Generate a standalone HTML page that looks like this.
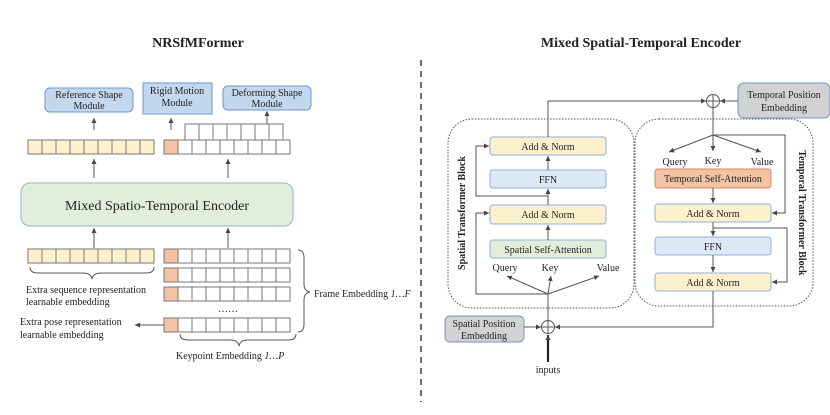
<!DOCTYPE html>
<html><head><meta charset="utf-8"><style>html,body{margin:0;padding:0;background:#fff}svg{display:block}text{font-family:"Liberation Serif",serif;fill:#222}</style></head>
<body>
<svg width="830" height="415" viewBox="0 0 830 415" xmlns="http://www.w3.org/2000/svg">
<defs>
<marker id="a" markerWidth="6" markerHeight="6" refX="5" refY="3" orient="auto" markerUnits="userSpaceOnUse"><path d="M0,0.5 L5,3 L0,5.5 z" fill="#444"/></marker>
</defs>
<!-- titles -->
<text x="198" y="47" font-size="14" font-weight="bold" text-anchor="middle">NRSfMFormer</text>
<text x="641" y="47" font-size="14" font-weight="bold" text-anchor="middle">Mixed Spatial-Temporal Encoder</text>
<line x1="421" y1="60" x2="421" y2="402" stroke="#222" stroke-width="1.3" stroke-dasharray="6,5"/>

<!-- LEFT -->
<g font-size="10" text-anchor="middle">
<rect x="45" y="88" width="88" height="24" rx="5" fill="#c3d8ee" stroke="#6f97c8"/>
<text x="89" y="98">Reference Shape</text><text x="89" y="109">Module</text>
<rect x="143" y="83" width="69" height="31" fill="#c3d8ee" stroke="#6f97c8"/>
<text x="177" y="94">Rigid Motion</text><text x="177" y="106">Module</text>
<rect x="223" y="86" width="88" height="24" rx="5" fill="#c3d8ee" stroke="#6f97c8"/>
<text x="267" y="96">Deforming Shape</text><text x="267" y="107">Module</text>
</g>
<g stroke="#555" fill="none" stroke-width="1">
<line x1="94" y1="130" x2="94" y2="118" marker-end="url(#a)"/>
<line x1="171" y1="130" x2="171" y2="118" marker-end="url(#a)"/>
<line x1="267" y1="124" x2="267" y2="111" marker-end="url(#a)"/>
<line x1="94" y1="178" x2="94" y2="159" marker-end="url(#a)"/>
<line x1="228" y1="178" x2="228" y2="159" marker-end="url(#a)"/>
<line x1="94" y1="248" x2="94" y2="228" marker-end="url(#a)"/>
<line x1="228" y1="248" x2="228" y2="228" marker-end="url(#a)"/>
</g>
<!-- staggered row -->
<rect x="185" y="124" width="98" height="16" fill="#fff" stroke="#777"/>
<path d="M199 124V140M213 124V140M227 124V140M241 124V140M255 124V140M269 124V140" stroke="#777"/>
<!-- output rows -->
<rect x="28" y="140" width="126" height="14" fill="#fdf0cc" stroke="#777"/>
<path d="M42 140V154M56 140V154M70 140V154M84 140V154M98 140V154M112 140V154M126 140V154M140 140V154" stroke="#777"/>
<rect x="164" y="140" width="14" height="14" fill="#f4c3a4" stroke="#777"/>
<rect x="178" y="140" width="112" height="14" fill="#fff" stroke="#777"/>
<path d="M192 140V154M206 140V154M220 140V154M234 140V154M248 140V154M262 140V154M276 140V154" stroke="#777"/>
<!-- encoder -->
<rect x="21" y="183" width="272" height="43" rx="9" fill="#e2eed9" stroke="#8fb1d8"/>
<text x="157" y="210" font-size="14" text-anchor="middle">Mixed Spatio-Temporal Encoder</text>
<!-- input rows -->
<rect x="28" y="249" width="126" height="14" fill="#fdf0cc" stroke="#777"/>
<path d="M42 249V263M56 249V263M70 249V263M84 249V263M98 249V263M112 249V263M126 249V263M140 249V263" stroke="#777"/>
<g stroke="#777">
<rect x="164" y="249" width="14" height="14" fill="#f4c3a4"/><rect x="178" y="249" width="112" height="14" fill="#fff"/>
<path d="M192 249v14M206 249v14M220 249v14M234 249v14M248 249v14M262 249v14M276 249v14"/>
<rect x="164" y="268" width="14" height="14" fill="#f4c3a4"/><rect x="178" y="268" width="112" height="14" fill="#fff"/>
<path d="M192 268v14M206 268v14M220 268v14M234 268v14M248 268v14M262 268v14M276 268v14"/>
<rect x="164" y="287" width="14" height="14" fill="#f4c3a4"/><rect x="178" y="287" width="112" height="14" fill="#fff"/>
<path d="M192 287v14M206 287v14M220 287v14M234 287v14M248 287v14M262 287v14M276 287v14"/>
<rect x="164" y="318" width="14" height="14" fill="#f4c3a4"/><rect x="178" y="318" width="112" height="14" fill="#fff"/>
<path d="M192 318v14M206 318v14M220 318v14M234 318v14M248 318v14M262 318v14M276 318v14"/>
</g>
<text x="228" y="312" font-size="10" text-anchor="middle">……</text>
<!-- braces -->
<g stroke="#555" fill="none">
<path d="M30 267 q0 6 8 6 h45 q8 0 9 6 q1 -6 9 -6 h45 q8 0 8 -6"/>
<path d="M180 334 q0 6 8 6 h42 q8 0 9 6 q1 -6 9 -6 h40 q8 0 8 -6"/>
<path d="M298 250 q6 0 6 8 v26 q0 7 6 8 q-6 1 -6 8 v24 q0 8 -6 8"/>
<line x1="164" y1="325" x2="135" y2="325" marker-end="url(#a)"/>
</g>
<g font-size="10">
<text x="26" y="293">Extra sequence representation</text>
<text x="26" y="305">learnable embedding</text>
<text x="20" y="325">Extra pose representation</text>
<text x="20" y="338">learnable embedding</text>
<text x="314" y="297">Frame Embedding <tspan font-style="italic">1…F</tspan></text>
<text x="176" y="359">Keypoint Embedding <tspan font-style="italic">1…P</tspan></text>
</g>

<!-- RIGHT -->
<rect x="448" y="119" width="186" height="189" rx="24" fill="none" stroke="#555" stroke-dasharray="1.5,1.5"/>
<rect x="635" y="119" width="178" height="187" rx="24" fill="none" stroke="#555" stroke-dasharray="1.5,1.5"/>
<rect x="738" y="83" width="92" height="35" rx="6" fill="#d2d2d2" stroke="#6f97c8"/>
<g font-size="10" text-anchor="middle">
<text x="784" y="98">Temporal Position</text><text x="784" y="111">Embedding</text>
</g>
<rect x="445" y="316" width="79" height="26" rx="5" fill="#d2d2d2" stroke="#6f97c8"/>
<g font-size="10" text-anchor="middle">
<text x="484" y="327">Spatial Position</text><text x="484" y="339">Embedding</text>
</g>
<!-- spatial boxes -->
<g stroke-width="1">
<rect x="490" y="137" width="116" height="18" rx="3" fill="#fdf0cc" stroke="#8fb1d8"/>
<rect x="490" y="170" width="116" height="18" rx="3" fill="#dde8f5" stroke="#8fb1d8"/>
<rect x="490" y="205" width="116" height="19" rx="3" fill="#fdf0cc" stroke="#8fb1d8"/>
<rect x="490" y="240" width="116" height="18" rx="3" fill="#e2eed9" stroke="#8fb1d8"/>
<rect x="655" y="169" width="116" height="19" rx="3" fill="#f4c3a4" stroke="#d08a6a"/>
<rect x="655" y="204" width="116" height="18" rx="3" fill="#fdf0cc" stroke="#8fb1d8"/>
<rect x="655" y="237" width="116" height="18" rx="3" fill="#dde8f5" stroke="#8fb1d8"/>
<rect x="655" y="273" width="116" height="18" rx="3" fill="#fdf0cc" stroke="#8fb1d8"/>
</g>
<g font-size="10" text-anchor="middle">
<text x="548" y="150">Add &amp; Norm</text>
<text x="548" y="183">FFN</text>
<text x="548" y="218">Add &amp; Norm</text>
<text x="548" y="253">Spatial Self-Attention</text>
<text x="505" y="271">Query</text><text x="550" y="271">Key</text><text x="608" y="271">Value</text>
<text x="713" y="182">Temporal Self-Attention</text>
<text x="713" y="217">Add &amp; Norm</text>
<text x="713" y="250">FFN</text>
<text x="713" y="286">Add &amp; Norm</text>
<text x="675" y="165">Query</text><text x="713" y="164">Key</text><text x="762" y="165">Value</text>
<text x="548" y="373">inputs</text>
</g>
<text font-size="10" font-weight="bold" transform="translate(465,213) rotate(-90)" text-anchor="middle">Spatial Transformer Block</text>
<text font-size="10" font-weight="bold" transform="translate(799,213) rotate(90)" text-anchor="middle">Temporal Transformer Block</text>
<!-- connectors -->
<g stroke="#555" fill="none" stroke-width="1">
<line x1="548" y1="333" x2="548" y2="260" stroke-width="0"/>
<path d="M548 321 V294"/>
<line x1="548" y1="294" x2="507" y2="276" marker-end="url(#a)"/>
<line x1="548" y1="294" x2="551" y2="276" marker-end="url(#a)"/>
<line x1="548" y1="294" x2="599" y2="276" marker-end="url(#a)"/>
<path d="M548 294 H476 V213 H489" marker-end="url(#a)"/>
<line x1="548" y1="240" x2="548" y2="225" marker-end="url(#a)"/>
<line x1="548" y1="205" x2="548" y2="189" marker-end="url(#a)"/>
<line x1="548" y1="170" x2="548" y2="156" marker-end="url(#a)"/>
<path d="M548 196 H476 V146 H489" marker-end="url(#a)"/>
<path d="M548 137 V101 H706" marker-end="url(#a)"/>
<line x1="738" y1="101" x2="720" y2="101" marker-end="url(#a)"/>
<circle cx="713" cy="101" r="6.5" fill="#fff"/>
<path d="M706.5 101h13M713 94.5v13"/>
<path d="M713 107.5 V135"/>
<line x1="713" y1="135" x2="669" y2="152" marker-end="url(#a)"/>
<line x1="713" y1="135" x2="713" y2="151" marker-end="url(#a)"/>
<line x1="713" y1="135" x2="761" y2="152" marker-end="url(#a)"/>
<path d="M713 135 H785 V213 H772" marker-end="url(#a)"/>
<line x1="713" y1="188" x2="713" y2="203" marker-end="url(#a)"/>
<line x1="713" y1="222" x2="713" y2="236" marker-end="url(#a)"/>
<path d="M713 228 H787 V282 H772" marker-end="url(#a)"/>
<line x1="713" y1="255" x2="713" y2="272" marker-end="url(#a)"/>
<path d="M713 291 V327 H555" marker-end="url(#a)"/>
<line x1="524" y1="327" x2="541" y2="327" marker-end="url(#a)"/>
<circle cx="548" cy="327" r="6.5" fill="#fff"/>
<path d="M541.5 327h13M548 320.5v13"/>
<line x1="548" y1="362" x2="548" y2="335" stroke="#222" stroke-width="2.2" marker-end="url(#a)"/>
</g>
</svg>
</body></html>
